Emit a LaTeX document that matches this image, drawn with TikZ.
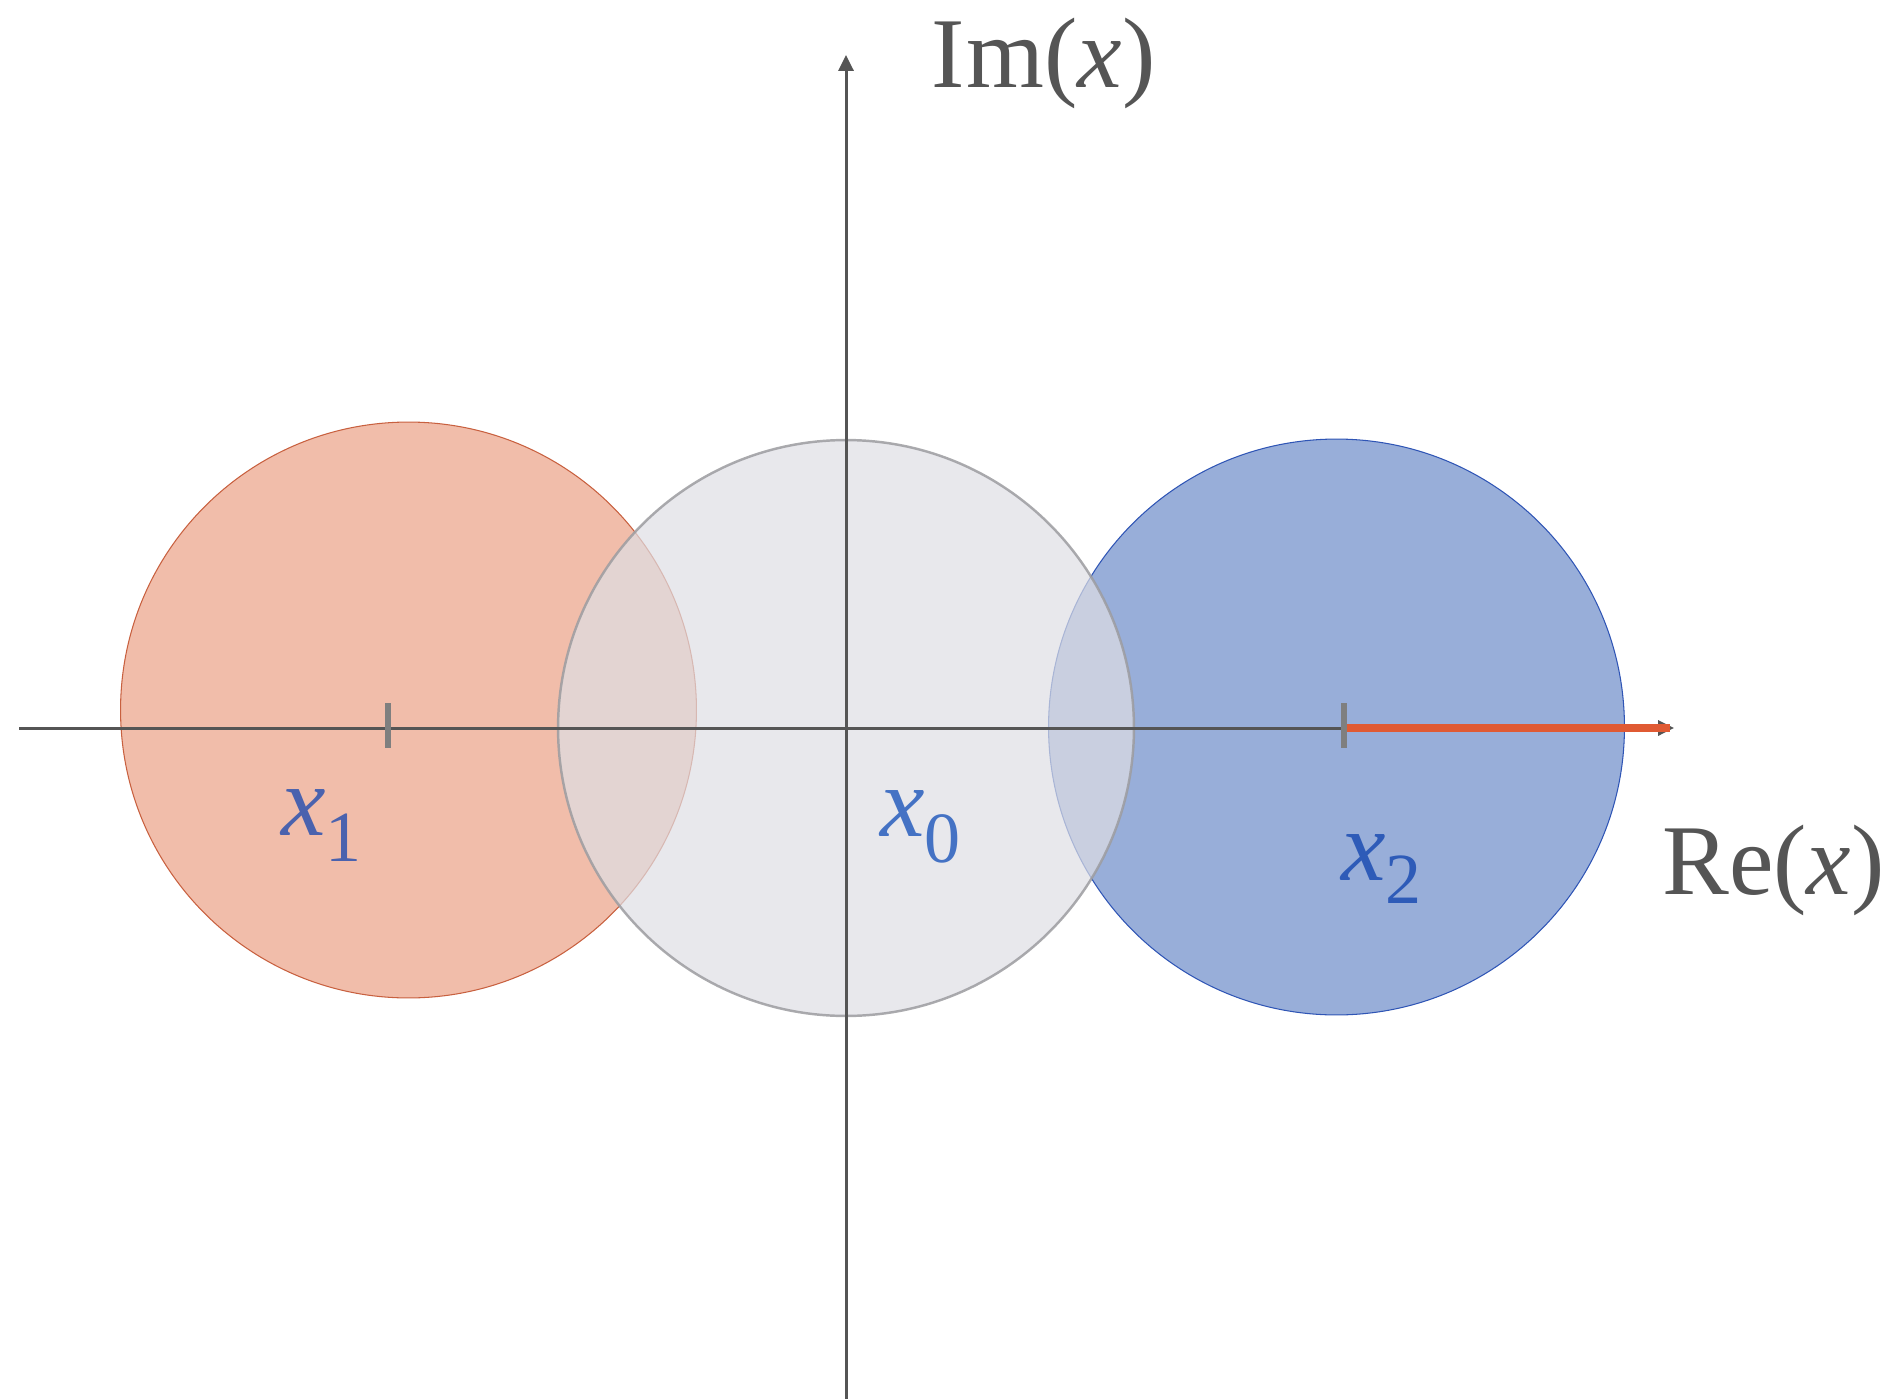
\documentclass[tikz,border=0pt]{standalone}
\usepackage{fontspec}
\setmainfont{Liberation Serif}
\usetikzlibrary{arrows.meta}
\definecolor{axisgray}{HTML}{555555}
\definecolor{tickgray}{HTML}{7F7F7F}
\definecolor{orfill}{HTML}{F1BDAA}
\definecolor{ordraw}{HTML}{C8603F}
\definecolor{blfill}{HTML}{98AED9}
\definecolor{bldraw}{HTML}{2F55B5}
\definecolor{grfill}{HTML}{DEDEE4}
\definecolor{grdraw}{HTML}{9C9CA0}
\definecolor{redarrow}{HTML}{E05A33}
\definecolor{lab1}{HTML}{4A62AE}
\definecolor{lab0}{HTML}{4472C4}
\definecolor{lab2}{HTML}{2E5BB8}
\newcommand{\bigfont}{\fontsize{57}{68}\selectfont}
\newcommand{\subfont}{\fontsize{41}{41}\selectfont}
\newcommand{\xsub}[2]{{\itshape x}\raisebox{-#2}{\subfont #1}}
\tikzset{
  disc/.style={circle, minimum size=11.52cm, inner sep=0pt},
  axisline/.style={draw=axisgray, line width=1.7pt, -{Triangle[length=9pt,width=8.5pt]}},
  tickmark/.style={draw=tickgray, line width=3.2pt},
  lab/.style={inner sep=0pt, anchor=base west, font=\bigfont},
}
\begin{document}
\begin{tikzpicture}[x=0.02cm, y=-0.02cm]
\useasboundingbox (0,0) rectangle (1900,1399);
% circles
\node[disc, fill=orfill, draw=ordraw, line width=0.6pt] (c1) at (408.5,710) {};
\node[disc, fill=blfill, draw=bldraw, line width=0.6pt] (c2) at (1336.5,727) {};
\node[disc, fill=grfill, fill opacity=0.7, draw=grdraw, draw opacity=0.85, line width=1.4pt] (c0) at (846,728) {};
% axes
\coordinate (xl) at (19,728);
\coordinate (xr) at (1674,728);
\coordinate (yb) at (846,1399);
\coordinate (yt) at (846,55);
\draw[axisline] (xl) -- (xr);
\draw[axisline] (yb) -- (yt);
% ticks
\coordinate (t1) at (388,728);
\coordinate (t2) at (1344,728);
\coordinate (t1a) at (388,703);
\coordinate (t1b) at (388,748);
\coordinate (t2a) at (1344,703);
\coordinate (t2b) at (1344,748);
\draw[tickmark] (t1a) -- (t1b);
% red arrow
\coordinate (rend) at (1670,728);
\draw[redarrow, line width=4.5pt] (t2) -- (rend);
\draw[tickmark] (t2a) -- (t2b);
% labels
\node[lab, text=lab1] (l1) at (281,835) {\xsub{1}{15pt}};
\node[lab, text=lab0] (l0) at (880,836) {\xsub{0}{15pt}};
\node[lab, text=lab2] (l2) at (1341,880) {\xsub{2}{13.5pt}};
\node[lab, text=axisgray] (re) at (1662,894) {Re(\textit{x})};
\node[lab, text=axisgray] (im) at (931,88) {I\kern1pt m(\textit{x})};
\end{tikzpicture}
\end{document}
